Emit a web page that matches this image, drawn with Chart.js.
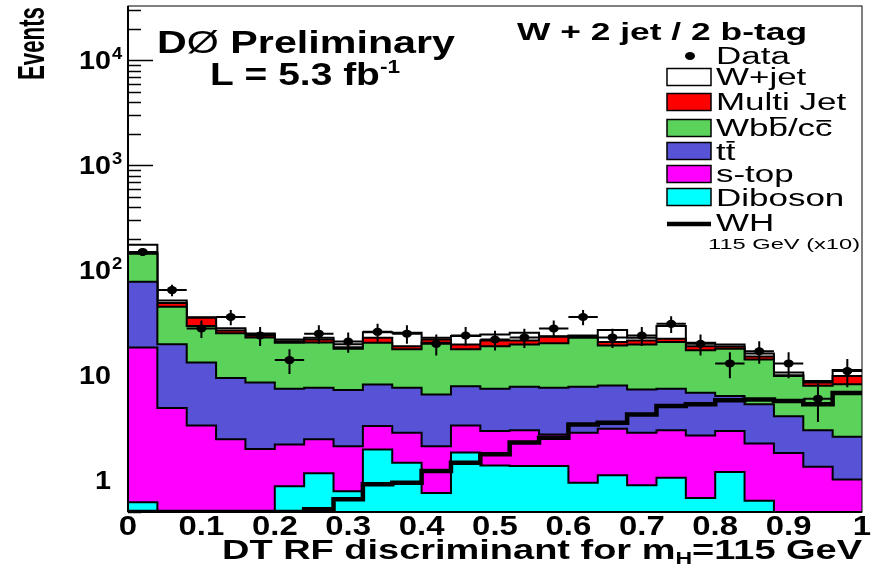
<!DOCTYPE html>
<html>
<head>
<meta charset="utf-8">
<script src="https://cdn.jsdelivr.net/npm/chart.js@4.4.0/dist/chart.umd.min.js"></script>
<style>
  html, body { margin: 0; padding: 0; background: #fff; }
</style>
</head>
<body>
<canvas id="grafica" width="871" height="565"></canvas>
<script>
// bordes de los bins (25 bins de 0.04)
const binEdges = [0, 0.04, 0.08, 0.12, 0.16, 0.2, 0.24, 0.28, 0.32, 0.36, 0.4, 0.44, 0.48,
  0.52, 0.56, 0.6, 0.64, 0.68, 0.72, 0.76, 0.8, 0.84, 0.88, 0.92, 0.96, 1];
const xTicks = [0, 0.1, 0.2, 0.3, 0.4, 0.5, 0.6, 0.7, 0.8, 0.9, 1];
const xTickLabels = ["0", "0.1", "0.2", "0.3", "0.4", "0.5", "0.6", "0.7", "0.8", "0.9", "1"];
const yTicks = [1, 10, 100, 1000, 10000];
const yTickLabels = [["1", ""], ["10", ""], ["10", "2"], ["10", "3"], ["10", "4"]];

// fondos apilados (de abajo hacia arriba)
const diboson  = [0.62, 0.05, 0.05, 0.05, 0.05, 0.88, 1.17, 0.79, 1.97, 1.47, 0.76, 1.84, 1.39,
  1.37, 1.37, 0.95, 1.12, 0.9, 1.06, 0.68, 1.2, 0.64, 0.05, 0.05, 0.05];
const stop     = [17.8, 4.85, 3.29, 2.42, 1.94, 1.32, 1.29, 1.33, 1.32, 1.38, 1.36, 1.5, 1.56,
  1.63, 1.37, 1.9, 1.98, 1.95, 1.94, 2.0, 1.75, 1.61, 1.77, 1.3, 0.97];
const ttbar    = [59.6, 14.85, 9.9, 7.0, 6.56, 5.27, 5.17, 5.13, 4.91, 4.78, 4.47, 4.56, 4.52,
  4.8, 4.89, 4.95, 4.9, 4.51, 4.47, 4.16, 3.4, 3.05, 2.27, 1.65, 1.58];
const wbb      = [66, 25.4, 16.3, 15.7, 14.4, 13.0, 12.9, 10.65, 12.3, 10.07, 13.9, 9.8, 11.5,
  11.9, 12.57, 15.0, 11.3, 12.34, 13.33, 10.56, 11.55, 8.9, 5.76, 4.95, 5.65];
const multijet = [5, 3.9, 5.9, 1.6, 1.7, 0.7, 1.5, 0.6, 2.3, 1.3, 1.5, 2.0, 2.5,
  1.8, 3.1, 0.7, 1.5, 1.8, 1.6, 1.6, 1.0, 0.9, 0.2, 0.6, 1.6];
const wjet     = [27, 2.7, 0.4, 1.4, 0.4, 0.8, 0.8, 1.3, 3.0, 6.5, 0.8, 4.0, 3.1,
  4.0, 0.3, 0.5, 6.2, 1.3, 7.1, 1.5, 0.8, 1.1, 0.6, 0.3, 1.4];

// datos y su error
const datos    = [150, 65, 28, 36, 24, 14, 25, 21, 26, 25, 20, 24, 22, 23, 28, 36, 23, 24, 31, 20, 13, 17, 13, 6, 11];
const datosErr = [12.2, 8.1, 5.3, 6, 4.9, 3.7, 5, 4.6, 5.1, 5, 4.5, 4.9, 4.7, 4.8, 5.3, 6, 4.8, 4.9, 5.6, 4.5, 3.6, 4.1, 3.6, 2.4, 3.3];

// senal WH 115 GeV (x10)
const wh = [0.5, 0.5, 0.5, 0.5, 0.5, 0.5, 0.53, 0.66, 0.92, 0.95, 1.23, 1.47, 1.77, 2.29, 2.55,
  3.41, 3.54, 4.25, 5.1, 5.3, 5.8, 5.9, 5.7, 5.3, 6.8];

const colores = {
  wjet: "#ffffff", multijet: "#ff0000", wbb: "#5bd35b",
  ttbar: "#5852d6", stop: "#ff00ff", diboson: "#00ffff"
};

// histograma como linea escalonada: un punto por borde izquierdo + el borde final
function escalon(vals) {
  const pts = vals.map((v, i) => ({ x: binEdges[i], y: v }));
  pts.push({ x: binEdges[vals.length], y: vals[vals.length - 1] });
  return pts;
}

function histo(vals, color) {
  return {
    data: escalon(vals), stack: "fondo", stepped: true, fill: "start",
    backgroundColor: color, borderColor: "#000", borderWidth: 2, pointRadius: 0
  };
}

const FAM = '"Liberation Sans", Arial, Helvetica, sans-serif';

// dibuja una secuencia de trozos de texto, estirada horizontalmente
function linea(ctx, piezas, x, y, opt) {
  let total = 0;
  piezas.forEach(p => {
    ctx.font = `${p.w || "bold"} ${p.s}px ${FAM}`;
    p.ancho = ctx.measureText(p.t).width;
    total += p.ancho;
  });
  const sx = opt.ancho ? opt.ancho / total : (opt.sx || 1);
  let x0 = x;
  if (opt.align === "right") x0 = x - total * sx;
  if (opt.align === "center") x0 = x - total * sx / 2;
  ctx.save();
  ctx.translate(x0, y);
  if (opt.rot) ctx.rotate(opt.rot);
  ctx.scale(sx, 1);
  ctx.textBaseline = "alphabetic";
  ctx.textAlign = "left";
  ctx.fillStyle = "#000";
  let cx = 0;
  piezas.forEach(p => {
    ctx.font = `${p.w || "bold"} ${p.s}px ${FAM}`;
    ctx.fillText(p.t, cx, p.dy || 0);
    if (p.barra) {
      ctx.fillRect(cx + p.ancho * 0.08, -p.barra, p.ancho * 0.84, 1.6);
    }
    cx += p.ancho;
  });
  ctx.restore();
}

const rotulos = {
  id: "rotulos",
  beforeDatasetsDraw(chart) {
    const { ctx, chartArea: a, scales: { y } } = chart;
    ctx.save();
    ctx.strokeStyle = "#000";
    ctx.lineWidth = 1.5;
    [0.1, 1, 10, 100, 1000, 10000].forEach(d => {
      for (let k = 1; k <= 9; k++) {
        const v = d * k;
        if (v < y.min || v > y.max) continue;
        const py = Math.round(y.getPixelForValue(v)) + 0.5;
        ctx.beginPath();
        ctx.moveTo(a.left, py);
        ctx.lineTo(a.left + (k === 1 ? 25 : 13), py);
        ctx.stroke();
      }
    });
    ctx.restore();
  },
  afterDatasetsDraw(chart) {
    const { ctx, chartArea: a, scales: { x, y } } = chart;
    ctx.save();
    // barras de error de los datos
    ctx.strokeStyle = "#000";
    ctx.lineWidth = 2;
    datos.forEach((v, i) => {
      const px = x.getPixelForValue((binEdges[i] + binEdges[i + 1]) / 2);
      const py = y.getPixelForValue(v);
      ctx.beginPath();
      ctx.moveTo(x.getPixelForValue(binEdges[i]), py);
      ctx.lineTo(x.getPixelForValue(binEdges[i + 1]), py);
      ctx.moveTo(px, y.getPixelForValue(v + datosErr[i]));
      ctx.lineTo(px, y.getPixelForValue(v - datosErr[i]));
      ctx.stroke();
      ctx.beginPath();
      ctx.ellipse(px, py, 5, 4, 0, 0, Math.PI * 2);
      ctx.fillStyle = "#000";
      ctx.fill();
    });

    // marco
    ctx.lineWidth = 1;
    ctx.strokeRect(a.left, a.top, a.right - a.left, a.bottom - a.top);
    ctx.lineWidth = 2;
    ctx.beginPath();
    ctx.moveTo(a.left, a.top); ctx.lineTo(a.left, a.bottom);
    ctx.moveTo(a.left, a.bottom); ctx.lineTo(a.right, a.bottom);
    ctx.stroke();

    // etiquetas de los ejes
    xTicks.forEach((t, i) => {
      linea(ctx, [{ t: xTickLabels[i], s: 27 }], x.getPixelForValue(t), 535, { sx: 1.22, align: "center" });
    });
    yTicks.forEach((t, i) => {
      const py = y.getPixelForValue(t);
      linea(ctx, [{ t: yTickLabels[i][0], s: 25 }], 111, py + 9, { sx: 1.15, align: "right" });
      if (yTickLabels[i][1]) {
        linea(ctx, [{ t: yTickLabels[i][1], s: 16 }], 112, py - 1, { sx: 1.15 });
      }
    });
    linea(ctx, [{ t: "Events", s: 36 }], 44, 80, { ancho: 73, rot: -Math.PI / 2 });
    linea(ctx, [
      { t: "DT RF discriminant for m", s: 28 },
      { t: "H", s: 17, dy: 5 },
      { t: "=115 GeV", s: 28 }
    ], 862, 559, { ancho: 640, align: "right" });

    // textos del experimento
    linea(ctx, [
      { t: "D", s: 31 }, { t: "\u00d8", s: 31, w: "normal" }, { t: " Preliminary", s: 31 }
    ], 157, 53, { ancho: 298 });
    linea(ctx, [
      { t: "L = 5.3 fb", s: 31 }, { t: "-1", s: 18, dy: -12 }
    ], 210, 85, { ancho: 190 });
    linea(ctx, [{ t: "W + 2 jet / 2 b-tag", s: 23 }], 517, 40, { ancho: 290 });

    // leyenda
    const lx = 716, bx = 667, bw = 44, bh = 17, lsx = 1.52;
    const cajas = [
      ["W+jet", colores.wjet, 77], ["Multi Jet", colores.multijet, 102],
      [null, colores.wbb, 128], [null, colores.ttbar, 151],
      ["s-top", colores.stop, 174], ["Diboson", colores.diboson, 197]
    ];
    ctx.lineWidth = 1.5;
    cajas.forEach(c => {
      ctx.fillStyle = c[1];
      ctx.fillRect(bx, c[2] - bh / 2, bw, bh);
      ctx.strokeStyle = "#000";
      ctx.strokeRect(bx, c[2] - bh / 2, bw, bh);
    });
    ctx.fillStyle = "#000";
    ctx.beginPath();
    ctx.ellipse(690, 56, 5, 4, 0, 0, Math.PI * 2);
    ctx.fill();
    ctx.lineWidth = 4.5;
    ctx.beginPath();
    ctx.moveTo(bx, 224); ctx.lineTo(bx + bw, 224);
    ctx.stroke();

    linea(ctx, [{ t: "Data", s: 23, w: "normal" }], lx, 64, { sx: lsx });
    linea(ctx, [{ t: "W+jet", s: 23, w: "normal" }], lx, 85, { sx: lsx });
    linea(ctx, [{ t: "Multi Jet", s: 23, w: "normal" }], lx, 110, { sx: lsx });
    linea(ctx, [
      { t: "Wb", s: 23, w: "normal" }, { t: "b", s: 23, w: "normal", barra: 19 },
      { t: "/c", s: 23, w: "normal" }, { t: "c", s: 23, w: "normal", barra: 16 }
    ], lx, 136, { sx: lsx });
    linea(ctx, [
      { t: "t", s: 23, w: "normal" }, { t: "t", s: 23, w: "normal", barra: 19 }
    ], lx, 160, { sx: lsx });
    linea(ctx, [{ t: "s-top", s: 23, w: "normal" }], lx, 182, { sx: lsx });
    linea(ctx, [{ t: "Diboson", s: 23, w: "normal" }], lx, 206, { sx: lsx });
    linea(ctx, [{ t: "WH", s: 23, w: "normal" }], lx, 231, { sx: lsx });
    linea(ctx, [{ t: "115 GeV (x10)", s: 15, w: "normal" }], 708, 249, { ancho: 152 });
    ctx.restore();
  }
};

new Chart(document.getElementById("grafica"), {
  type: "line",
  data: {
    datasets: [
      histo(diboson, colores.diboson),
      histo(stop, colores.stop),
      histo(ttbar, colores.ttbar),
      histo(wbb, colores.wbb),
      histo(multijet, colores.multijet),
      histo(wjet, colores.wjet),
      {
        data: escalon(wh), stack: "senal", order: -1, stepped: true, fill: false,
        borderColor: "#000", borderWidth: 4.5, pointRadius: 0
      }
    ]
  },
  options: {
    responsive: false,
    animation: false,
    layout: { padding: { left: 128, right: 9, top: 6, bottom: 53 } },
    plugins: { legend: { display: false }, tooltip: { enabled: false } },
    scales: {
      x: { type: "linear", min: 0, max: 1, display: false },
      y: { type: "logarithmic", min: 0.5, max: 33000, stacked: true, display: false }
    }
  },
  plugins: [rotulos]
});
</script>
</body>
</html>
